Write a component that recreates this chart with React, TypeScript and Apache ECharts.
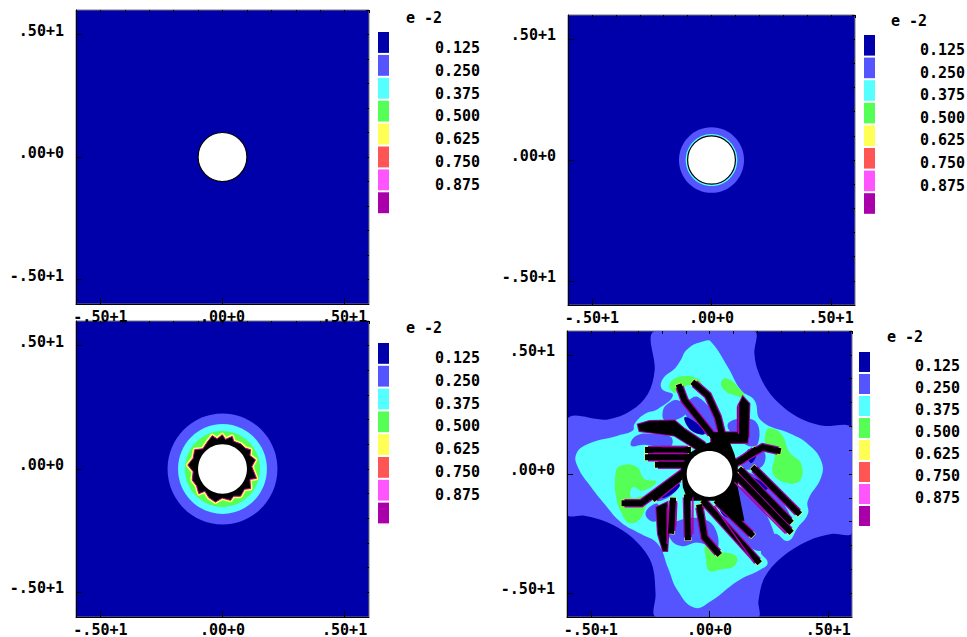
import React, { useEffect, useRef } from "react";
import * as echarts from "echarts";

type Pt = [number, number];

const FONT = "'DejaVu Sans Mono', monospace";
const legendLabels = ["0.125", "0.250", "0.375", "0.500", "0.625", "0.750", "0.875"];
const legendColors = ["#0000AA", "#5555FF", "#55FFFF", "#55FF55", "#FFFF55", "#FF5555", "#FF55FF", "#AA00AA"];
const exponentLabel = "e -2";
const tickLabels: Record<string, string> = { "-5": "-.50+1", "0": ".00+0", "5": ".50+1" };
const majorTicks = [-5, 0, 5];
const holeRadius = 1;

const panel2Rings = [1.36, 1.08];
const panel3Rings = [2.25, 1.82, 1.54];

const panel3Jagged: Pt[] = [
  [-0.42, 1.35], [-0.22, 1.22], [-0.01, 1.39], [0.12, 1.2], [0.4, 1.32], [0.46, 1.12], [0.74, 1.02], [0.94, 0.84],
  [1.15, 0.78], [1.12, 0.55], [1.35, 0.37], [1.2, 0.1], [1.39, -0.38], [1.12, -0.42], [1.15, -0.79], [0.9, -0.82],
  [0.74, -1.1], [0.45, -1.1], [0.33, -1.27], [-0.01, -1.18], [-0.29, -1.34], [-0.56, -1.16], [-0.72, -0.9],
  [-0.97, -1.0], [-1.06, -0.68], [-1.24, -0.45], [-1.2, -0.11], [-1.42, 0.16], [-1.2, 0.44], [-1.14, 0.78],
  [-0.8, 0.82], [-0.63, 1.08],
];

const p4Blue: Pt[] = [
  [-2.31, 6], [1.87, 6], [1.89, 5.05], [2.03, 4.35], [2.45, 3.51], [3.02, 2.88], [3.72, 2.38], [4.7, 2.03], [6, 1.89],
  [6, -2.45], [5.12, -2.52], [4.14, -2.81], [3.02, -3.51], [2.31, -4.35], [2.06, -5.33], [2.03, -6], [-2.24, -6],
  [-2.27, -5.05], [-2.38, -3.93], [-2.73, -3.23], [-3.44, -2.52], [-4.28, -2.03], [-5.26, -1.75], [-6, -1.68],
  [-6, 2.29], [-4.28, 2.29], [-3.3, 2.66], [-2.59, 3.37], [-2.31, 4.35],
];
const p4Cyan: Pt[] = [
  [-0.21, 5.58], [-0.91, 5.26], [-1.26, 4.7], [-1.47, 4.42], [-1.96, 4.0], [-2.01, 3.58], [-1.54, 3.3], [-2.17, 2.73],
  [-2.73, 2.52], [-3.16, 2.1], [-3.23, 1.82], [-3.86, 1.61], [-5.12, 1.26], [-5.61, 0.84], [-5.54, 0.28], [-4.98, -0.56],
  [-4.42, -1.26], [-3.72, -2.03], [-2.88, -2.52], [-2.17, -2.95], [-1.75, -3.93], [-1.33, -4.91], [-0.63, -5.61],
  [0.07, -5.33], [1.19, -4.49], [2.17, -4.0], [2.45, -3.72], [2.17, -3.23], [2.73, -2.52], [3.3, -2.81], [3.72, -2.24],
  [4.14, -1.68], [4.14, -1.12], [4.7, -0.14], [4.7, 0.56], [4.14, 1.26], [3.44, 1.68], [2.17, 2.24], [1.89, 3.09],
  [1.33, 3.51], [0.77, 4.49], [0.07, 5.54],
];
const p4Green: Pt[][] = [
  [[-3.97, -0.14], [-3.79, 0.32], [-3.09, 0.31], [-2.73, -0.21], [-2.24, -0.31], [-2.81, -0.7], [-3.23, -0.56], [-3.3, -0.98], [-2.73, -0.98], [-2.88, -1.82], [-3.37, -2.06], [-3.72, -1.61], [-3.93, -0.98]],
  [[2.34, 1.61], [2.52, 1.92], [3.02, 1.68], [3.37, 0.91], [3.86, 0.42], [3.79, -0.28], [3.16, -0.35], [2.66, 0.07], [2.73, 0.84], [2.38, 1.26]],
  [[-0.14, -2.95], [0.35, -3.23], [1.12, -3.44], [1.05, -3.86], [0.49, -4.0], [0, -4.07], [-0.14, -3.65]],
  [[-1.68, 3.79], [-1.19, 4.1], [-0.49, 4.0], [-0.35, 3.72], [-0.91, 3.72], [-1.33, 3.44], [-1.54, 3.44]],
  [[0.49, 3.86], [0.77, 4.0], [1.33, 3.51], [1.47, 3.23], [1.05, 3.3], [0.63, 3.51]],
];
const p4BlueHoles: Pt[][] = [
  [[1.33, -0.56], [2.73, -2.52], [2.17, -3.23], [1.33, -2.66], [0.49, -1.4]],
  [[1.47, 0.07], [2.45, -0.42], [3.3, -1.54], [3.37, -1.96], [1.89, -0.7]],
  [[-1.68, -2.1], [-0.07, -1.96], [0.35, -3.09], [-0.49, -2.88], [-1.19, -3.02], [-1.68, -2.66]],
  [[-2.66, -1.54], [-2.17, -1.26], [-2.24, -1.96], [-2.59, -1.89]],
  [[-2.45, -0.98], [-1.47, -0.14], [-1.33, -0.56], [-2.03, -1.12]],
  [[-1.75, 2.95], [-1.33, 3.09], [-0.91, 2.66], [-1.47, 2.24], [-1.89, 2.24], [-1.96, 2.66]],
  [[-3.3, 1.19], [-3.09, 1.61], [-2.31, 1.68], [-1.61, 1.54], [-1.68, 1.12], [-2.73, 1.23]],
  [[-0.49, 3.23], [0.35, 1.96], [-0.21, 1.68], [-1.05, 2.66]],
  [[0.77, 2.1], [1.89, 2.24], [2.03, 1.26], [1.47, 1.26]],
  [[1.75, 0.84], [2.31, 0.91], [2.17, 0.28], [1.33, 0.28]],
];
const p4DarkPatches: Pt[][] = [
  [[-1.05, 2.38], [-0.49, 2.1], [-0.21, 1.68], [-0.77, 1.82]],
  [[1.6, 1.0], [2.0, 0.95], [1.75, 0.45]],
  [[1.75, -0.14], [2.45, -0.56], [2.17, -0.7], [1.61, -0.35]],
  [[-1.5, -0.3], [-1.25, -0.5], [-1.9, -1.0], [-2.1, -0.85]],
  [[0.6, -1.35], [1.05, -1.75], [0.8, -1.85], [0.45, -1.55]],
];
const p4HubBlock: Pt[] = [
  [-0.91, 0.84], [-0.21, 1.26], [0.77, 1.54], [1.05, 0.84], [1.19, 0.28], [1.19, -0.56], [1.47, -1.96], [1.05, -1.96],
  [0.35, -1.12], [-0.91, -1.12], [-1.12, -0.56], [-1.19, 0.28],
];
const p4BlackBlocks: Pt[][] = [
  [[-3.02, 2.08], [-2.52, 2.22], [-1.47, 2.24], [-1.05, 1.89], [-0.21, 1.33], [0.07, 0.91], [-0.35, 0.91], [-1.47, 1.61], [-2.95, 1.8]],
  [[-2.24, -1.4], [-1.78, -1.19], [-1.73, -2.52], [-1.78, -3.23], [-1.96, -3.23], [-2.17, -2.52]],
  [[1.19, 2.81], [1.4, 3.25], [1.68, 2.95], [1.64, 1.54], [1.19, 1.54]],
  [[0.07, 1.75], [1.64, 1.75], [1.6, 1.3], [0.07, 1.3]],
];
const p4ThinSpokes: Pt[][] = [
  [[-1.26, 3.65], [-1.05, 3.09], [0.07, 1.68]],
  [[-0.63, 3.79], [-0.07, 3.3], [0.35, 2.38], [0.56, 1.54], [0.56, 0.98]],
  [[-3.58, -1.23], [-2.88, -1.23], [-0.91, 0.21]],
  [[-2.3, -1.0], [-1.3, -0.2]],
  [[-0.42, -1.4], [-0.21, -2.66], [0.35, -3.3]],
  [[-0.21, -1.19], [2.03, -3.65]],
  [[0.35, -1.19], [1.75, -2.52]],
  [[1.19, -0.14], [3.37, -2.38]],
  [[1.33, 0.14], [3.37, -1.96]],
  [[1.89, 0.21], [3.72, -1.61]],
  [[1.05, 0.42], [2.24, 1.12], [2.88, 0.98]],
  [[1.33, 0.56], [1.89, 0.98]],
  [[-1.54, -1.12], [-1.61, -2.38]],
  [[-0.95, -0.98], [-0.91, -2.66]],
  [[-2.59, 1.01], [-0.91, 1.01]],
  [[-2.59, 0.7], [-0.91, 0.7]],
  [[-2.17, 0.39], [-0.91, 0.39]],
];
const p4Stripes: Pt[][] = [
  [[1.22, 2.95], [1.22, 1.68]],
  [[-1.78, -1.4], [-1.78, -2.95]],
  [[-2.38, 0.87], [-1.05, 0.87]],
  [[-2.0, 1.15], [-1.05, 1.15]],
  [[-0.7, -0.98], [-0.7, -2.52]],
  [[-1.38, -1.2], [-1.42, -2.2]],
  [[1.05, -0.35], [3.2, -2.5]],
  [[0.2, -1.35], [1.9, -3.75]],
];

const polygonSeries = (g: number, polys: Pt[][], style: any, smooth = 0) => ({
  type: "custom",
  coordinateSystem: "cartesian2d",
  xAxisIndex: g * 2,
  yAxisIndex: g * 2,
  silent: true,
  clip: true,
  encode: { x: 0, y: 1 },
  data: polys.map((p, i) => [p[0][0], p[0][1], i]),
  renderItem: (params: any, api: any) => ({
    type: "polygon",
    shape: { points: polys[params.dataIndex].map((pt) => api.coord(pt)), smooth },
    style,
  }),
});

const lineSeries = (g: number, lines: Pt[][], style: any) => ({
  ...polygonSeries(g, lines, style),
  renderItem: (params: any, api: any) => ({
    type: "polyline",
    shape: { points: lines[params.dataIndex].map((pt) => api.coord(pt)) },
    style: { fill: null, ...style },
  }),
});

const discSeries = (g: number, radii: number[], colors: string[], extra: any = {}) => ({
  type: "custom",
  coordinateSystem: "cartesian2d",
  xAxisIndex: g * 2,
  yAxisIndex: g * 2,
  silent: true,
  encode: { x: 0, y: 1 },
  data: radii.map((r) => [0, 0, r]),
  renderItem: (params: any, api: any) => {
    const c = api.coord([0, 0]);
    const s = api.size([api.value(2), api.value(2)]);
    return {
      type: "ellipse",
      shape: { cx: c[0], cy: c[1], rx: s[0], ry: s[1] },
      style: { fill: colors[params.dataIndex], ...extra },
    };
  },
});

const grids = [
  { left: 76, top: 10, width: 293, height: 294 },
  { left: 568, top: 15, width: 287, height: 290 },
  { left: 76, top: 321, width: 293, height: 296 },
  { left: 567, top: 331, width: 285, height: 287 },
];
const legends = [
  { sx: 378, tx: 435, ex: 406, ey: 18, sy: 32, pitch: 22.9, ty: 47.7 },
  { sx: 864, tx: 920, ex: 891, ey: 21, sy: 35, pitch: 22.6, ty: 50 },
  { sx: 378, tx: 435, ex: 406, ey: 328, sy: 343, pitch: 22.8, ty: 358 },
  { sx: 859, tx: 915, ex: 887, ey: 337, sy: 352, pitch: 22, ty: 366 },
];

function buildAxes(dim: "x" | "y") {
  const out: any[] = [];
  grids.forEach((_, g) => {
    const base = { type: "value", gridIndex: g, min: -6, max: 6, interval: 1, splitLine: { show: false }, z: 5 };
    out.push({
      ...base,
      axisLine: { show: true, onZero: false, lineStyle: { color: "#000", width: 1 } },
      axisTick: { show: true, inside: true, length: 6, customValues: majorTicks, lineStyle: { color: "#000" } },
      axisLabel: {
        show: true,
        customValues: majorTicks,
        margin: dim === "x" ? 5 : 12,
        ...(dim === "y" ? { verticalAlign: "bottom", lineHeight: 8 } : {}),
        color: "#000",
        fontFamily: FONT,
        fontWeight: "bold",
        fontSize: 15,
        formatter: (v: number) => tickLabels[String(v)] ?? "",
      },
    });
    out.push({
      ...base,
      axisLine: { show: false, onZero: false },
      axisTick: { show: true, inside: true, length: 3, lineStyle: { color: "#000" } },
      axisLabel: { show: false },
    });
  });
  return out;
}

function legendGraphics() {
  const items: any[] = [];
  legends.forEach((l) => {
    items.push({
      type: "text", x: l.ex, y: l.ey,
      style: { text: exponentLabel, fill: "#000", font: `bold 15px ${FONT}`, verticalAlign: "middle" },
    });
    legendColors.forEach((c, i) => {
      items.push({ type: "rect", shape: { x: l.sx, y: l.sy + i * l.pitch, width: 11, height: l.pitch - 2 }, style: { fill: c } });
    });
    legendLabels.forEach((t, i) => {
      items.push({
        type: "text", x: l.tx, y: l.ty + i * l.pitch,
        style: { text: t, fill: "#000", font: `bold 15px ${FONT}`, verticalAlign: "middle" },
      });
    });
  });
  return items;
}

const WHITE = "#FFFFFF";
const [DARK, BLUE, CYAN, GREEN, YELLOW, , , PURPLE] = legendColors;

function buildSeries() {
  const hole = (g: number) => discSeries(g, [holeRadius], [WHITE], { stroke: "#000", lineWidth: 1.2 });
  const THIN = 6;
  return [
    hole(0),
    discSeries(1, panel2Rings, [BLUE, CYAN]),
    hole(1),
    discSeries(2, panel3Rings, [BLUE, CYAN, GREEN]),
    polygonSeries(2, [panel3Jagged], { fill: YELLOW, stroke: YELLOW, lineWidth: 4, lineJoin: "round" }),
    polygonSeries(2, [panel3Jagged], { fill: "#000", stroke: PURPLE, lineWidth: 1, lineJoin: "miter" }),
    discSeries(2, [holeRadius], [WHITE]),
    polygonSeries(3, [p4Blue], { fill: BLUE }, 0.35),
    polygonSeries(3, [p4Cyan], { fill: CYAN }, 0.45),
    polygonSeries(3, p4Green, { fill: GREEN }, 0.45),
    polygonSeries(3, p4BlueHoles, { fill: BLUE }, 0.45),
    polygonSeries(3, p4DarkPatches, { fill: DARK }, 0.45),
    lineSeries(3, p4ThinSpokes, { stroke: YELLOW, lineWidth: THIN + 1, lineCap: "square" }),
    lineSeries(3, p4ThinSpokes, { stroke: PURPLE, lineWidth: THIN + 2.5, lineCap: "butt" }),
    polygonSeries(3, p4BlackBlocks, { fill: "#000", stroke: PURPLE, lineWidth: 2 }),
    polygonSeries(3, [p4HubBlock], { fill: "#000" }),
    lineSeries(3, p4ThinSpokes, { stroke: "#000", lineWidth: THIN, lineCap: "square" }),
    polygonSeries(3, p4BlackBlocks, { fill: "#000" }),
    lineSeries(3, p4Stripes, { stroke: PURPLE, lineWidth: 1.5 }),
    discSeries(3, [holeRadius * 0.96], [WHITE]),
  ];
}

export default function App() {
  const ref = useRef<HTMLDivElement>(null);
  useEffect(() => {
    document.body.style.margin = "0";
    document.body.style.background = "#fff";
    const chart = echarts.init(ref.current!, undefined, { renderer: "svg" });
    chart.setOption({
      animation: false,
      backgroundColor: "#fff",
      grid: grids.map((g) => ({ ...g, show: true, backgroundColor: DARK, borderColor: "#777", borderWidth: 1 })),
      xAxis: buildAxes("x"),
      yAxis: buildAxes("y"),
      series: buildSeries(),
      graphic: legendGraphics(),
    });
    return () => chart.dispose();
  }, []);
  return <div ref={ref} style={{ width: 967, height: 637 }} />;
}
